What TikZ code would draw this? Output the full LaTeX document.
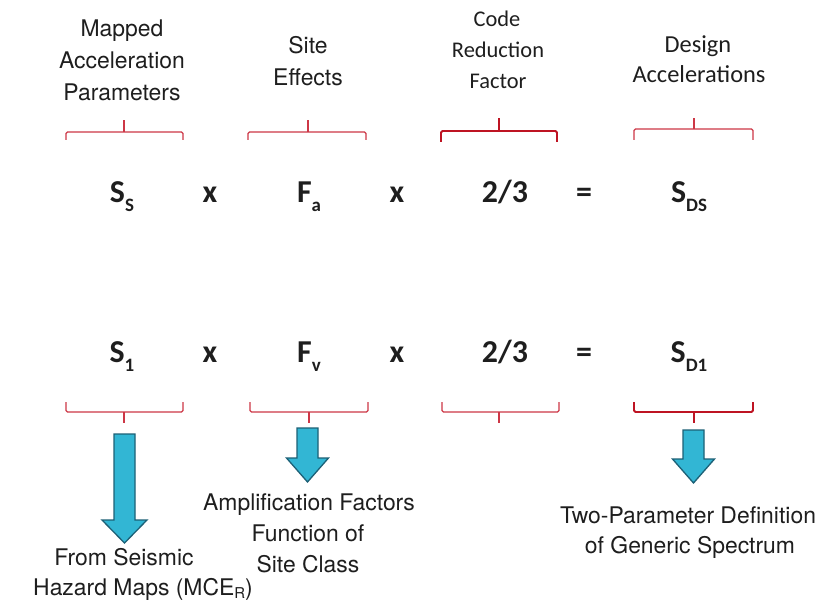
\documentclass[tikz,border=0pt]{standalone}
\usepackage{fontspec}
\setmainfont{TeX Gyre Heros}
\newfontfamily\arialfont{TeX Gyre Heros}
\newfontfamily\calfont{Carlito}
\definecolor{txt}{RGB}{30,30,30}
\definecolor{brkred}{RGB}{205,55,70}
\definecolor{brkdeep}{RGB}{190,20,35}
\definecolor{arrcyan}{RGB}{50,182,212}
\definecolor{arrdark}{RGB}{28,96,118}
\newcommand\eqsub[1]{\raisebox{-9bp}{\fontsize{19}{19}\selectfont #1}}
\newcommand\blkarrow[6]{% cx, top, headtop, tip, shaft half, head half
  \fill[blk] (#1-#5,#2) -- (#1+#5,#2) -- (#1+#5,#3) -- (#1+#6,#3) -- (#1,#4)
    -- (#1-#6,#3) -- (#1-#5,#3) -- cycle;}
\begin{document}
\begin{tikzpicture}[x=1bp,y=-1bp,
  hdr/.style={font=\arialfont\fontsize{23}{28}\selectfont, text=txt, inner sep=0, anchor=base},
  calhdr/.style={font=\calfont\fontsize{22.5}{28}\selectfont, text=txt, inner sep=0, anchor=base},
  eq/.style={font=\calfont\bfseries\fontsize{32}{36}\selectfont, text=txt, inner sep=0, anchor=base},
  brk/.style={draw=brkred, line width=1.3bp, rounded corners=1.5bp},
  brkd/.style={draw=brkdeep, line width=1.8bp, rounded corners=1.5bp},
  blk/.style={fill=arrcyan, draw=arrdark, line width=1.3bp, line join=miter}]
\useasboundingbox[fill=white] (0,0) rectangle (831,605);

% headers
\node[hdr] (h1a) at (122,37) {Mapped};
\node[hdr] (h1b) at (122,69) {Acceleration};
\node[hdr] (h1c) at (122,101) {Parameters};
\node[hdr] (h2a) at (308,54) {Site};
\node[hdr] (h2b) at (308,86) {Effects};
\node[calhdr] (h3a) at (497,27) {Code};
\node[calhdr] (h3b) at (498,58) {Reduction};
\node[calhdr] (h3c) at (498,89) {Factor};
\node[calhdr,font=\calfont\fontsize{24.5}{28}\selectfont] (h4a) at (698,53) {Design};
\node[calhdr,font=\calfont\fontsize{24.5}{28}\selectfont] (h4b) at (699,83) {Accelerations};

% top brackets
\draw[brk] (66,140) -- (66,132) -- (183,132) -- (183,140);
\draw[brk] (124,132) -- (124,120);
\draw[brk] (248,140) -- (248,132) -- (366,132) -- (366,140);
\draw[brk] (308,132) -- (308,120);
\draw[brkd] (441,142) -- (441,131) -- (557,131) -- (557,142);
\draw[brkd] (499,131) -- (499,118);
\draw[brk] (634,140) -- (634,129) -- (753,129) -- (753,140);
\draw[brk] (694,129) -- (694,118);

% equation row 1
\node[eq] (ss) at (122,203) {S\eqsub{S}};
\node[eq] (x1) at (210,203) {x};
\node[eq] (fa) at (309,203) {F\eqsub{a}};
\node[eq] (x2) at (397,203) {x};
\node[eq] (r1) at (505,203) {2/3};
\node[eq] (e1) at (584,203) {=};
\node[eq] (sds) at (689,203) {S\eqsub{DS}};

% equation row 2
\node[eq] (s1) at (122,362) {S\eqsub{1}};
\node[eq] (x3) at (210,362) {x};
\node[eq] (fv) at (309,362) {F\eqsub{v}};
\node[eq] (x4) at (397,362) {x};
\node[eq] (r2) at (505,362) {2/3};
\node[eq] (e2) at (584,362) {=};
\node[eq] (sd1) at (689,362) {S\eqsub{D1}};

% bottom brackets
\draw[brk] (66,402) -- (66,412) -- (183,412) -- (183,402);
\draw[brk] (124,412) -- (124,423);
\draw[brk] (250,402) -- (250,412) -- (368,412) -- (368,402);
\draw[brk] (309,412) -- (309,423);
\draw[brk] (442,402) -- (442,412) -- (559,412) -- (559,402);
\draw[brk] (499,412) -- (499,423);
\draw[brkd] (634,402) -- (634,412) -- (753,412) -- (753,402);
\draw[brkd] (694,412) -- (694,423);

% block arrows
\blkarrow{124.5}{434}{520}{543}{10.5}{22.5}
\blkarrow{307.5}{428}{458}{482}{10.5}{21}
\blkarrow{693.5}{430}{459}{483}{10.5}{21}

% bottom texts
\node[hdr] (b1a) at (124,565) {From Seismic};
\node[hdr] (b1b) at (143,595) {Hazard Maps (MCE\raisebox{-3bp}{\fontsize{15}{15}\selectfont R})};
\node[hdr] (b2a) at (309,510) {Amplification Factors};
\node[hdr] (b2b) at (308,541) {Function of};
\node[hdr] (b2c) at (308,572) {Site Class};
\node[hdr] (b3a) at (688,523) {Two-Parameter Definition};
\node[hdr] (b3b) at (690,553) {of Generic Spectrum};
\end{tikzpicture}
\end{document}
